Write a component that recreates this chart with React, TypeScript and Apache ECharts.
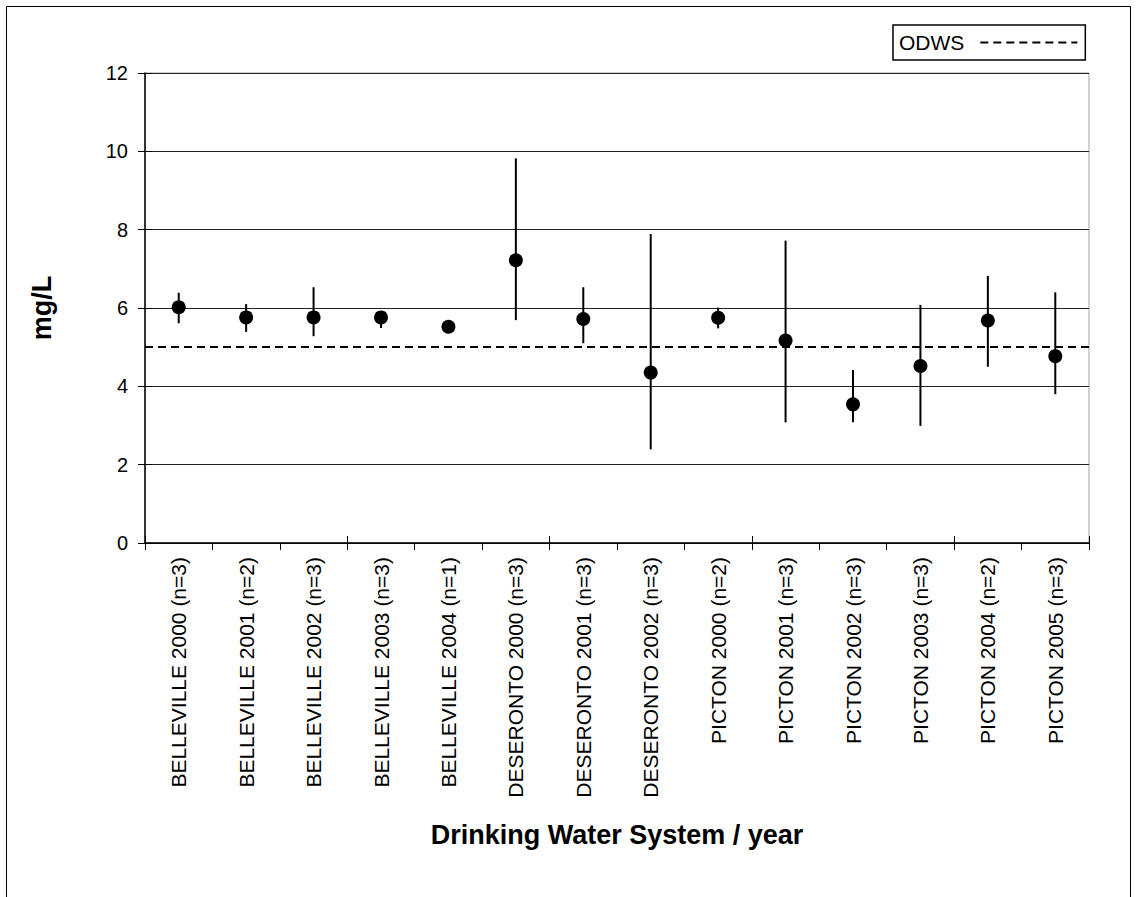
import React, { useEffect, useRef } from "react";
import * as echarts from "echarts";

// Drinking water systems sampled, by year (n = number of samples)
const categories = [
  "BELLEVILLE 2000 (n=3)",
  "BELLEVILLE 2001 (n=2)",
  "BELLEVILLE 2002 (n=3)",
  "BELLEVILLE 2003 (n=3)",
  "BELLEVILLE 2004 (n=1)",
  "DESERONTO 2000 (n=3)",
  "DESERONTO 2001 (n=3)",
  "DESERONTO 2002 (n=3)",
  "PICTON 2000 (n=2)",
  "PICTON 2001 (n=3)",
  "PICTON 2002 (n=3)",
  "PICTON 2003 (n=3)",
  "PICTON 2004 (n=2)",
  "PICTON 2005 (n=3)",
];

// Mean concentration (mg/L)
const meanValues = [6.02, 5.76, 5.76, 5.76, 5.52, 7.22, 5.72, 4.35, 5.75, 5.17, 3.54, 4.52, 5.68, 4.77];
// Range of the samples (mg/L); a single sample has no range
const maxValues = [6.39, 6.1, 6.53, 5.85, null, 9.82, 6.53, 7.89, 6.01, 7.72, 4.42, 6.08, 6.82, 6.4];
const minValues = [5.61, 5.39, 5.28, 5.49, null, 5.69, 5.1, 2.39, 5.48, 3.08, 3.08, 2.99, 4.5, 3.8];

// Ontario Drinking Water Standard
const odwsLimit = 5;

const yTicks = { min: 0, max: 12, interval: 2 };

const FONT = "'Liberation Sans', Arial, Helvetica, sans-serif";

export default function App() {
  const ref = useRef<HTMLDivElement>(null);

  useEffect(() => {
    document.body.style.margin = "0";
    const chart = echarts.init(ref.current!, null, { renderer: "svg" });

    const rangeData = categories
      .map((_, i) => [i, minValues[i], maxValues[i]])
      .filter((d) => d[1] != null && d[2] != null);

    const dashed = { color: "#000", width: 2, type: [8, 5] as number[] };

    chart.setOption({
      animation: false,
      backgroundColor: "#fff",
      textStyle: { fontFamily: FONT, color: "#000" },
      graphic: [
        {
          type: "rect",
          silent: true,
          shape: { x: 6.5, y: 6.5, width: 1124, height: 910 },
          style: { fill: "none", stroke: "#000", lineWidth: 1 },
          z: -1,
        },
      ],
      legend: {
        left: 893,
        top: 25,
        orient: "horizontal",
        align: "right",
        padding: [7, 7, 7, 6],
        borderColor: "#000",
        borderWidth: 1.5,
        borderRadius: 0,
        itemWidth: 97,
        itemHeight: 14,
        data: ["ODWS"],
        itemStyle: { opacity: 0 },
        lineStyle: { color: "#000", width: 2, type: [8, 5] },
        textStyle: { fontFamily: FONT, fontSize: 21, color: "#000", padding: [0, 11, 0, 0] },
      },
      grid: {
        left: 145,
        right: 50,
        top: 73,
        bottom: 354,
        show: true,
        borderColor: "#a0a0a0",
        borderWidth: 1,
        backgroundColor: "transparent",
      },
      xAxis: [
        {
          type: "category",
          data: categories,
          boundaryGap: true,
          axisLine: { lineStyle: { color: "#000", width: 1.5 } },
          axisTick: { show: true, inside: false, length: 7, lineStyle: { color: "#000", width: 1 } },
          axisLabel: {
            interval: 0,
            rotate: 90,
            margin: 14,
            fontSize: 21,
            fontFamily: FONT,
            color: "#000",
          },
          splitLine: { show: false },
          name: "Drinking Water System / year",
          nameLocation: "middle",
          nameGap: 278,
          nameTextStyle: { fontSize: 27, fontWeight: "bold", fontFamily: FONT, color: "#000" },
        },
        {
          type: "category",
          data: categories,
          position: "bottom",
          boundaryGap: true,
          axisLine: { show: false },
          axisTick: { show: true, inside: true, length: 7, lineStyle: { color: "#000", width: 1 } },
          axisLabel: { show: false },
          splitLine: { show: false },
        },
      ],
      yAxis: [
        {
          type: "value",
          ...yTicks,
          axisLine: { show: true, lineStyle: { color: "#000", width: 1.5 } },
          axisTick: { show: true, inside: false, length: 7, lineStyle: { color: "#000", width: 1 } },
          axisLabel: { margin: 17, fontSize: 20, fontFamily: FONT, color: "#000" },
          splitLine: { show: true, lineStyle: { color: "#222", width: 1 } },
          name: "mg/L",
          nameLocation: "middle",
          nameRotate: 90,
          nameGap: 90,
          nameTextStyle: { fontSize: 27, fontWeight: "bold", fontFamily: FONT, color: "#000" },
        },
        {
          type: "value",
          ...yTicks,
          position: "left",
          axisLine: { show: false },
          axisTick: { show: true, inside: true, length: 7, lineStyle: { color: "#000", width: 1 } },
          axisLabel: { show: false },
          splitLine: { show: false },
        },
      ],
      series: [
        {
          name: "range",
          type: "custom",
          xAxisIndex: 0,
          yAxisIndex: 0,
          z: 2,
          silent: true,
          data: rangeData,
          encode: { x: 0, y: [1, 2] },
          renderItem: (_params: any, api: any) => {
            const lo = api.coord([api.value(0), api.value(1)]);
            const hi = api.coord([api.value(0), api.value(2)]);
            return {
              type: "line",
              shape: { x1: lo[0], y1: lo[1], x2: hi[0], y2: hi[1] },
              style: { stroke: "#000", lineWidth: 2 },
            };
          },
        },
        {
          name: "mean",
          type: "scatter",
          xAxisIndex: 0,
          yAxisIndex: 0,
          z: 3,
          symbol: "circle",
          symbolSize: 14,
          itemStyle: { color: "#000", opacity: 1 },
          data: meanValues,
        },
        {
          name: "ODWS",
          type: "line",
          xAxisIndex: 0,
          yAxisIndex: 0,
          z: 4,
          symbol: "none",
          showSymbol: false,
          lineStyle: dashed,
          itemStyle: { color: "#000" },
          data: [],
          markLine: {
            silent: true,
            symbol: ["none", "none"],
            label: { show: false },
            lineStyle: dashed,
            data: [{ yAxis: odwsLimit }],
          },
        },
      ],
    });

    return () => chart.dispose();
  }, []);

  return <div ref={ref} style={{ width: 1139, height: 897 }} />;
}
